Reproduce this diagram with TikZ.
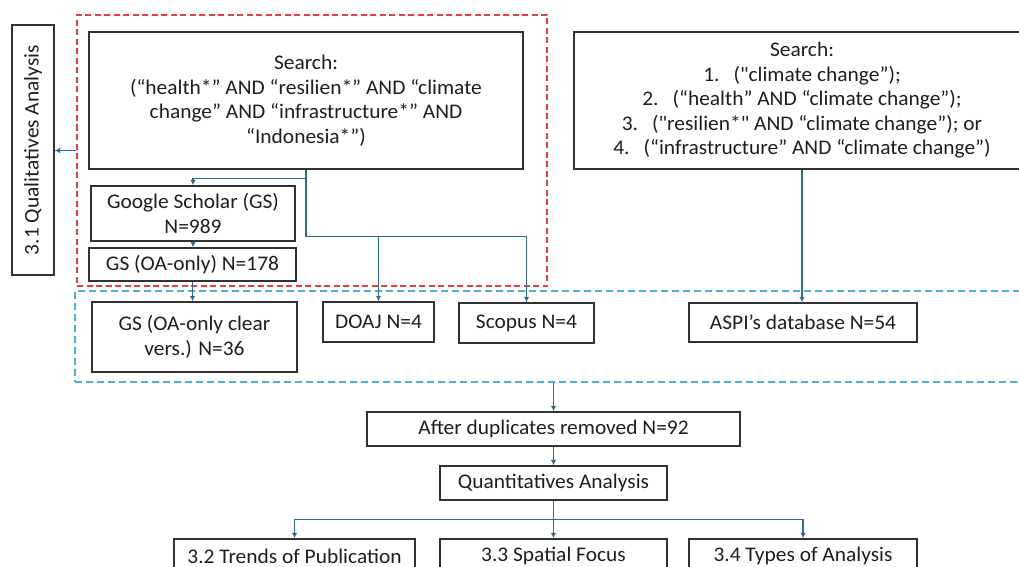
\documentclass[tikz,border=0pt]{standalone}
\usepackage{fontspec}
\setmainfont[FakeStretch=1.03,Ligatures=TeXOff]{Carlito}
\usetikzlibrary{arrows.meta}
\definecolor{boxline}{RGB}{50,50,50}
\definecolor{boxtext}{RGB}{30,30,30}
\definecolor{flow}{RGB}{44,108,145}
\definecolor{redframe}{RGB}{242,58,58}
\definecolor{blueframe}{RGB}{72,176,226}
\begin{document}
\begin{tikzpicture}[x=1pt,y=-1pt,
  box/.style={draw=boxline, line width=1.4pt, fill=white, inner sep=0pt,
    align=center, text=boxtext, font=\fontsize{20.8}{24.5}\selectfont},
  frame/.style={line width=1.3pt, inner sep=0pt, dash pattern=on 6pt off 3.5pt},
  flowline/.style={draw=flow, line width=1.4pt, -{Latex[length=5.5pt,width=5.5pt]}},
  plainflow/.style={draw=flow, line width=1.4pt}
]
\useasboundingbox (0,0) rectangle (1019,567);
\clip (0,0) rectangle (1019,567);

% dashed groupings
\node[frame, draw=redframe, minimum width=470pt, minimum height=271pt] (grp1) at (312,150.5) {};
\node[frame, draw=blueframe, dash pattern=on 7pt off 4pt, minimum width=955pt, minimum height=91pt] (grp2) at (552.5,336.5) {};

% side label (rotated: its south side faces right)
\node[box, rotate=90, minimum width=250pt, minimum height=42pt] (qual) at (33,150) {3.1 Qualitatives Analysis};

% search boxes
\node[box, minimum width=434pt, minimum height=137pt] (search1) at (306,100.5)
  {Search:\\(“health*” AND “resilien*” AND “climate\\change” AND “infrastructure*” AND\\“Indonesia*”)};
\node[box, minimum width=456pt, minimum height=137pt] (search2) at (802,100.5)
  {Search:\\
   1.\hspace{14pt}("climate change”);\\
   2.\hspace{14pt}(“health” AND “climate change”);\\
   3.\hspace{14pt}("resilien*" AND “climate change”); or\\
   4.\hspace{14pt}(“infrastructure” AND “climate change”)};

% sources
\node[box, minimum width=204pt, minimum height=55pt] (gs) at (193,213.5) {Google Scholar (GS)\\N=989};
\node[box, minimum width=207pt, minimum height=33pt] (gsoa) at (192.5,264.5) {GS (OA-only) N=178};
\node[box, minimum width=205pt, minimum height=70pt] (gsclear) at (194.5,337) {GS (OA-only clear\\vers.) N=36};
\node[box, minimum width=111pt, minimum height=40pt] (doaj) at (378.5,322) {DOAJ N=4};
\node[box, minimum width=135pt, minimum height=40pt] (scopus) at (526.5,323) {Scopus N=4};
\node[box, minimum width=228pt, minimum height=39pt] (aspi) at (803,322.5) {ASPI’s database N=54};

% merge and analysis
\node[box, minimum width=373pt, minimum height=34pt] (dup) at (553.5,429) {After duplicates removed N=92};
\node[box, minimum width=227pt, minimum height=34pt] (quant) at (553.5,483) {Quantitatives Analysis};
\node[box, minimum width=241pt, minimum height=34pt] (t32) at (294.5,556) {3.2 Trends of Publication};
\node[box, minimum width=227pt, minimum height=34pt] (t33) at (553.5,556) {3.3 Spatial Focus};
\node[box, minimum width=228pt, minimum height=34pt] (t34) at (803,556) {3.4 Types of Analysis};

% connectors
\draw[flowline] (grp1.west) -- (grp1.west -| qual.south);
\path (search1.south) ++(0,9) coordinate (gsfork);
\path (search1.south) ++(0,67) coordinate (dbfork);
\draw[flowline] (search1.south) -- (gsfork) -| (gs.north);
\draw[plainflow] (gsfork) -- (dbfork);
\draw[flowline] (dbfork) -| (doaj.north);
\draw[flowline] (dbfork) -| (scopus.north);
\draw[flowline] (gs.south) -- (gs.south |- gsoa.north);
\draw[flowline] (gsoa.south) -- (gsoa.south |- gsclear.north);
\draw[flowline] (search2.south) -- (search2.south |- aspi.north);
\draw[flowline] (dup.north |- grp2.south) -- (dup.north);
\draw[flowline] (dup.south) -- (quant.north);
\path (quant.south) ++(0,19) coordinate (qfork);
\draw[plainflow] (quant.south) -- (qfork);
\draw[flowline] (qfork) -| (t32.north);
\draw[flowline] (qfork) -- (qfork -| t33.north) -- (t33.north);
\draw[flowline] (qfork) -| (t34.north);
\end{tikzpicture}
\end{document}
